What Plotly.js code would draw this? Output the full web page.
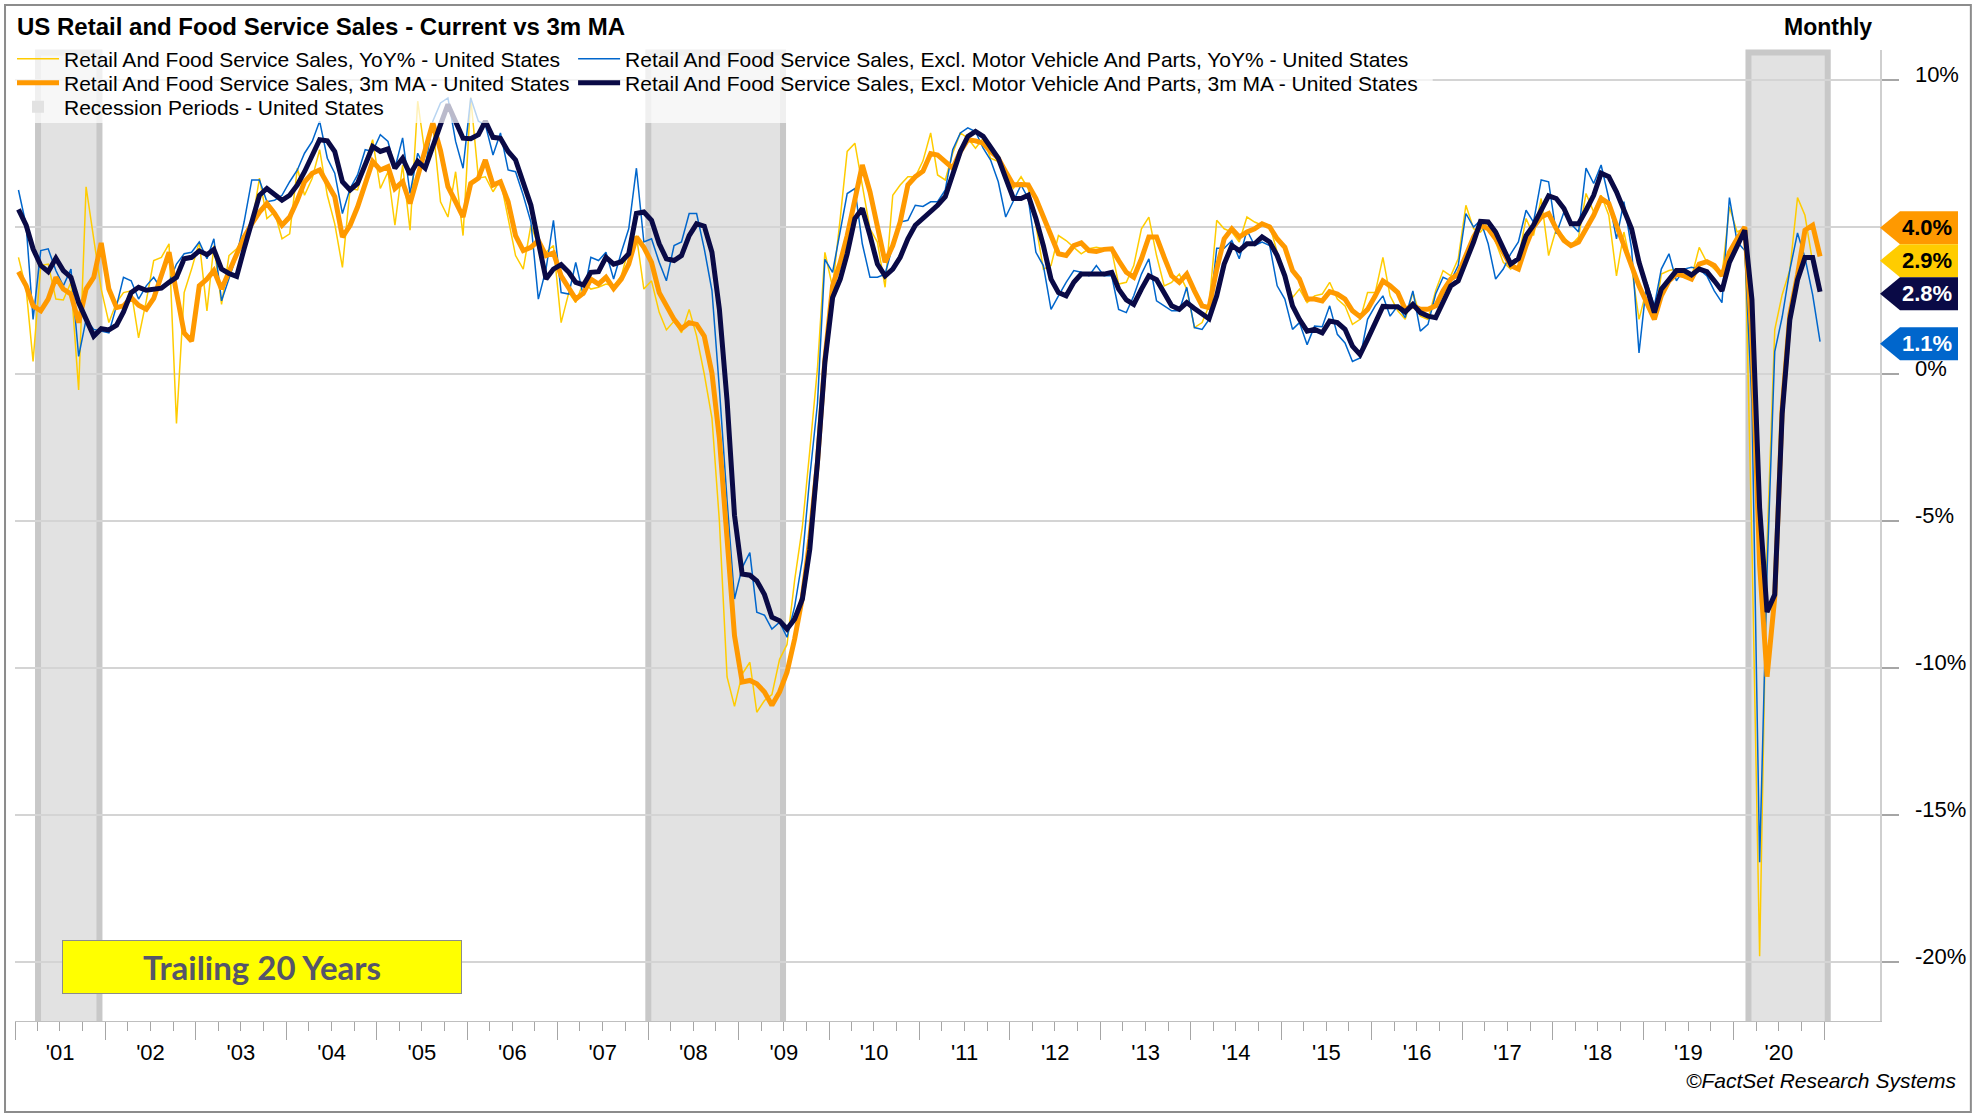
<!DOCTYPE html>
<html>
<head>
<meta charset="utf-8">
<script src="https://cdn.plot.ly/plotly-3.0.1.min.js"></script>
<style>
html,body{margin:0;padding:0;background:#fff;}
#chart{width:1973px;height:1114px;}
</style>
</head>
<body>
<div id="chart"></div>
<script>
// ---------------- DATA (monthly, Jan 2001 .. Dec 2020) ----------------
const startYear = 2001;
const years = [2001,2002,2003,2004,2005,2006,2007,2008,2009,2010,2011,2012,2013,2014,2015,2016,2017,2018,2019,2020];

// Retail And Food Service Sales, YoY% - United States
const totalYoY = [
 3.97, 2.89, 0.43, 3.69, 3.74, 2.55, 2.52, 3.12, -0.54, 6.37, 4.60, 2.89,
 1.75, 2.43, 2.77, 2.83, 1.23, 2.49, 3.86, 3.97, 4.43, -1.68, 2.77, 3.57,
 4.49, 2.15, 4.37, 2.37, 4.03, 4.26, 4.71, 5.06, 6.66, 5.29, 5.51, 4.60,
 4.77, 7.00, 6.08, 6.66, 7.63, 6.08, 5.11, 3.63, 6.31, 6.26, 7.17, 7.97,
 6.31, 6.88, 5.06, 7.11, 4.89, 9.28, 7.45, 8.48, 5.86, 5.34, 6.88, 4.71,
 9.40, 6.66, 6.71, 6.20, 6.60, 5.29, 4.03, 3.57, 5.06, 4.37, 4.14, 4.37,
 1.75, 2.77, 2.43, 3.12, 2.89, 2.95, 3.06, 3.00, 3.34, 4.26, 4.71, 2.89,
 3.17, 2.10, 1.50, 1.80, 1.40, 2.20, 1.30, 0.00, -1.50, -5.00, -10.30, -11.30,
 -10.20, -9.80, -11.50, -11.10, -10.90, -9.70, -9.20, -7.00, -5.20, -2.60, 0.20, 4.14,
 2.95, 5.30, 7.57, 7.85, 6.43, 4.94, 4.49, 2.95, 6.08, 6.43, 6.71, 6.71,
 7.25, 8.20, 6.77, 6.60, 7.51, 8.20, 8.02, 7.68, 8.02, 7.34, 7.23, 6.66,
 6.31, 6.71, 6.31, 5.06, 3.57, 3.69, 4.71, 4.54, 4.31, 4.09, 4.26, 4.31,
 4.26, 4.20, 3.06, 3.12, 3.69, 4.94, 5.34, 4.03, 3.00, 3.12, 3.40, 2.89,
 1.58, 1.75, 2.32, 5.23, 4.94, 4.83, 4.49, 5.34, 5.17, 5.06, 5.06, 4.14,
 3.46, 2.60, 2.89, 2.43, 2.66, 2.72, 3.12, 2.55, 2.32, 1.69, 1.86, 2.77,
 2.77, 3.97, 2.66, 2.15, 1.86, 2.77, 1.97, 1.86, 2.83, 3.52, 3.34, 3.92,
 5.74, 4.94, 4.83, 5.17, 4.49, 3.80, 3.57, 3.92, 5.29, 4.71, 5.97, 4.03,
 4.94, 4.66, 4.37, 4.66, 6.14, 5.51, 6.08, 5.40, 3.34, 4.83, 3.63, 1.86,
 2.89, 1.86, 3.40, 3.52, 3.57, 3.29, 3.29, 4.31, 3.80, 3.57, 3.34, 5.68,
 4.83, 4.97, -5.80, -19.80, -5.80, 1.50, 2.70, 3.54, 6.00, 5.40, 3.80, 2.90
];

// Retail And Food Service Sales, 3m MA - United States
const totalMA = [
 3.48, 3.00, 2.32, 2.15, 2.55, 3.29, 2.89, 2.72, 1.75, 2.89, 3.29, 4.46,
 2.89, 2.26, 2.32, 2.60, 2.34, 2.20, 2.57, 3.40, 4.14, 2.77, 1.40, 1.12,
 3.00, 3.23, 3.52, 2.89, 3.46, 4.14, 4.66, 5.11, 5.51, 5.80, 5.46, 5.06,
 5.34, 5.91, 6.54, 6.83, 6.94, 6.48, 6.03, 4.66, 5.06, 5.68, 6.43, 7.23,
 6.94, 7.05, 6.31, 6.54, 5.80, 6.71, 7.68, 8.54, 7.60, 6.37, 5.86, 5.34,
 6.48, 6.66, 7.28, 6.43, 6.54, 5.86, 4.71, 4.20, 4.31, 4.54, 4.03, 4.12,
 3.34, 2.91, 2.55, 2.75, 3.23, 3.06, 3.29, 2.91, 3.23, 3.74, 4.66, 4.31,
 3.80, 2.77, 2.32, 1.86, 1.54, 1.75, 1.69, 1.29, 0.03, -2.20, -5.60, -8.90,
 -10.47, -10.42, -10.53, -10.81, -11.26, -10.81, -10.14, -9.00, -7.60, -5.60, -3.00, 0.50,
 3.00, 3.80, 4.71, 5.97, 7.11, 6.20, 5.06, 3.80, 4.37, 5.17, 6.43, 6.71,
 6.90, 7.50, 7.45, 7.23, 7.00, 7.57, 7.97, 7.93, 7.85, 7.57, 7.34, 6.88,
 6.43, 6.45, 6.43, 5.97, 5.40, 4.71, 4.09, 4.03, 4.37, 4.46, 4.20, 4.17,
 4.24, 4.26, 3.86, 3.46, 3.29, 3.92, 4.66, 4.66, 3.97, 3.34, 3.12, 3.40,
 2.83, 2.32, 2.26, 3.57, 4.60, 4.94, 4.66, 4.83, 4.94, 5.11, 5.00, 4.60,
 4.31, 3.52, 3.23, 2.55, 2.55, 2.49, 2.80, 2.72, 2.55, 2.15, 1.95, 2.20,
 2.66, 3.17, 3.00, 2.77, 2.20, 2.32, 2.20, 2.20, 2.32, 2.83, 3.23, 3.40,
 4.03, 4.66, 5.06, 4.94, 4.60, 4.14, 3.69, 3.57, 4.37, 5.00, 5.34, 5.46,
 4.94, 4.54, 4.37, 4.49, 4.94, 5.40, 5.97, 5.80, 5.06, 4.37, 3.57, 3.00,
 2.43, 1.86, 2.66, 3.17, 3.40, 3.34, 3.23, 3.74, 3.82, 3.69, 3.34, 4.14,
 4.60, 5.00, 1.30, -6.50, -10.29, -7.59, -1.18, 2.02, 3.37, 4.89, 5.06, 4.00
];

// Retail And Food Service Sales, Excl. Motor Vehicle And Parts, YoY% - United States
const exAutoYoY = [
 6.26, 5.06, 1.86, 4.20, 4.26, 3.52, 3.00, 3.57, 0.60, 1.86, 1.52, 1.46,
 1.40, 2.32, 3.29, 3.17, 2.55, 3.00, 3.29, 2.89, 3.12, 3.74, 4.09, 4.14,
 4.49, 3.92, 4.60, 2.49, 3.23, 4.03, 5.17, 6.60, 6.60, 5.86, 5.91, 6.08,
 6.54, 6.94, 7.51, 7.91, 8.60, 7.34, 6.83, 5.46, 6.31, 6.77, 7.63, 7.57,
 8.14, 7.91, 7.00, 8.03, 6.14, 7.51, 7.00, 8.60, 9.22, 9.39, 7.91, 7.00,
 9.39, 8.60, 8.48, 7.45, 8.20, 6.94, 6.88, 6.08, 5.17, 2.55, 3.57, 5.23,
 2.77, 2.72, 3.80, 2.66, 3.97, 3.86, 4.14, 3.23, 4.14, 4.94, 7.00, 4.49,
 4.60, 3.80, 3.17, 4.37, 4.49, 5.46, 5.46, 4.26, 2.84, -0.50, -4.30, -7.65,
 -6.58, -6.07, -8.10, -8.20, -8.67, -8.44, -8.95, -7.90, -6.30, -3.50, -1.00, 3.90,
 3.46, 4.83, 6.14, 6.31, 4.43, 3.29, 3.29, 3.40, 4.37, 5.17, 5.23, 5.74,
 5.70, 5.86, 5.86, 6.26, 7.63, 8.20, 8.37, 8.25, 7.68, 7.28, 6.54, 5.34,
 5.91, 6.43, 5.97, 4.14, 3.69, 2.20, 2.66, 3.12, 3.52, 3.46, 3.34, 3.69,
 3.34, 3.34, 2.20, 2.09, 2.66, 3.40, 3.92, 2.49, 2.32, 2.15, 2.15, 2.95,
 1.58, 1.52, 1.86, 4.28, 4.28, 4.54, 3.92, 4.89, 4.37, 4.49, 4.37, 3.00,
 2.55, 1.52, 1.75, 1.00, 1.63, 1.61, 2.32, 1.35, 1.06, 0.43, 0.55, 1.86,
 2.32, 2.66, 1.97, 2.32, 1.92, 2.83, 1.46, 1.69, 2.72, 3.29, 3.17, 3.69,
 5.46, 5.00, 5.23, 4.43, 3.23, 3.57, 4.09, 4.49, 5.57, 5.17, 6.60, 6.54,
 4.77, 5.51, 5.11, 4.83, 7.00, 6.48, 7.11, 5.97, 4.60, 5.86, 4.26, 0.72,
 3.12, 2.32, 3.57, 4.09, 3.17, 3.57, 3.63, 3.57, 3.34, 2.83, 2.43, 6.00,
 4.50, 4.20, -1.00, -16.60, -6.70, 0.76, 1.94, 3.54, 4.80, 3.96, 2.70, 1.10
];

// Retail And Food Service Sales, Excl. Motor Vehicle And Parts, 3m MA - United States
const exAutoMA = [
 5.60, 5.06, 4.26, 3.69, 3.48, 3.94, 3.52, 3.29, 2.43, 1.86, 1.29, 1.54,
 1.50, 1.66, 2.11, 2.77, 2.95, 2.85, 2.89, 2.92, 3.12, 3.29, 3.92, 3.97,
 4.19, 4.06, 4.24, 3.57, 3.42, 3.32, 4.26, 5.11, 6.08, 6.31, 6.11, 5.91,
 6.08, 6.43, 6.88, 7.45, 7.97, 7.93, 7.57, 6.54, 6.26, 6.48, 7.17, 7.74,
 7.57, 7.66, 7.00, 7.34, 6.79, 7.23, 7.00, 7.80, 8.48, 9.17, 8.60, 8.02,
 8.00, 8.14, 8.60, 8.05, 8.02, 7.57, 7.28, 6.54, 5.74, 4.49, 3.23, 3.57,
 3.72, 3.46, 3.12, 3.03, 3.46, 3.48, 3.97, 3.74, 3.82, 4.09, 5.46, 5.51,
 5.23, 4.43, 3.92, 3.86, 4.03, 4.71, 5.11, 5.03, 4.14, 2.20, -0.90, -4.80,
 -6.80, -6.84, -7.03, -7.50, -8.27, -8.39, -8.67, -8.33, -7.65, -5.96, -3.00, 0.40,
 2.60, 3.23, 4.09, 5.29, 5.63, 4.71, 3.74, 3.34, 3.57, 3.97, 4.60, 5.06,
 5.29, 5.55, 5.74, 6.03, 6.77, 7.57, 8.08, 8.25, 8.08, 7.74, 7.34, 6.66,
 5.97, 5.97, 6.08, 5.29, 4.37, 3.23, 2.77, 2.66, 3.12, 3.40, 3.40, 3.44,
 3.40, 3.46, 2.89, 2.52, 2.37, 2.89, 3.34, 3.21, 2.77, 2.32, 2.20, 2.43,
 2.23, 2.03, 1.88, 2.66, 3.74, 4.37, 4.20, 4.43, 4.43, 4.66, 4.49, 4.03,
 3.34, 2.32, 1.86, 1.46, 1.52, 1.40, 1.80, 1.75, 1.52, 0.95, 0.66, 1.18,
 1.75, 2.30, 2.29, 2.29, 2.11, 2.37, 2.09, 1.97, 1.92, 2.43, 3.00, 3.17,
 3.80, 4.49, 5.19, 5.17, 4.83, 4.26, 3.74, 3.92, 4.71, 5.06, 5.57, 6.06,
 5.97, 5.63, 5.11, 5.11, 5.57, 6.08, 6.83, 6.71, 6.20, 5.63, 4.94, 3.80,
 3.00, 2.09, 2.89, 3.23, 3.52, 3.52, 3.37, 3.57, 3.48, 3.17, 2.83, 3.80,
 4.37, 4.89, 2.53, -4.55, -8.09, -7.50, -1.35, 1.85, 3.20, 3.96, 3.96, 2.80
];

// Recession Periods - United States
const recessionStart = ['2001-04-04', '2008-01-02', '2020-03-01'];
const recessionEnd   = ['2001-12-08', '2009-06-29', '2021-01-15'];

const yTickVals = [-20, -15, -10, -5, 0, 5, 10];

const names = {
  totalYoY: 'Retail And Food Service Sales, YoY% - United States',
  totalMA: 'Retail And Food Service Sales, 3m MA - United States',
  exAutoYoY: 'Retail And Food Service Sales, Excl. Motor Vehicle And Parts, YoY% - United States',
  exAutoMA: 'Retail And Food Service Sales, Excl. Motor Vehicle And Parts, 3m MA - United States',
  recession: 'Recession Periods - United States'
};
const colors = {
  totalYoY: '#FFCC00', totalMA: '#FF9900', exAutoYoY: '#0066CC', exAutoMA: '#0A0A46'
};

// ---------------- checks ----------------
[totalYoY, totalMA, exAutoYoY, exAutoMA].forEach((a, i) => {
  if (a.length !== years.length * 12) throw new Error('series ' + i + ' length ' + a.length);
});

// ---------------- geometry helpers ----------------
const W = 1973, H = 1114;
const M = {l: 12, r: 93, t: 50, b: 93};
const PW = W - M.l - M.r, PH = H - M.t - M.b;
const pxX = v => (v - M.l) / PW;
const pxY = v => 1 - (v - M.t) / PH;
const FONT = 'Arial, "Liberation Sans", sans-serif';

const dates = totalYoY.map((_, i) => {
  const y = startYear + Math.floor(i / 12), m = i % 12 + 1;
  return y + '-' + String(m).padStart(2, '0') + '-15';
});
const tickYears = years.concat([years[years.length - 1] + 1]);
const majorTicks = tickYears.map(y => y + '-01-01');
const minorTicks = [];
years.forEach(y => ['04', '07', '10'].forEach(m => minorTicks.push(y + '-' + m + '-01')));
const labelVals = years.map(y => y + '-07-02');
const labelText = years.map(y => "'" + String(y).slice(2));
const xRange = ['2001-01-01', '2021-08-14'];
const yRange = [-22.0, 11.02];

// ---------------- traces ----------------
const traces = [
  {x: dates, y: totalYoY, name: names.totalYoY, type: 'scatter', mode: 'lines',
   line: {color: colors.totalYoY, width: 1.5}, legend: 'legend', hoverinfo: 'skip'},
  {x: dates, y: exAutoYoY, name: names.exAutoYoY, type: 'scatter', mode: 'lines',
   line: {color: colors.exAutoYoY, width: 1.5}, legend: 'legend4', hoverinfo: 'skip'},
  {x: dates, y: totalMA, name: names.totalMA, type: 'scatter', mode: 'lines',
   line: {color: colors.totalMA, width: 5}, legend: 'legend2', hoverinfo: 'skip'},
  {x: dates, y: exAutoMA, name: names.exAutoMA, type: 'scatter', mode: 'lines',
   line: {color: colors.exAutoMA, width: 5}, legend: 'legend5', hoverinfo: 'skip'},
  {x: dates, y: totalYoY, xaxis: 'x2', type: 'scatter', mode: 'lines', opacity: 0,
   line: {width: 0}, showlegend: false, hoverinfo: 'skip'}
];

// ---------------- shapes ----------------
const shapes = [];
recessionStart.forEach((s, i) => {
  shapes.push({type: 'rect', xref: 'x', yref: 'paper', x0: s, x1: recessionEnd[i], y0: 0, y1: 1 - 2.5 / PH,
    fillcolor: '#E2E2E2', line: {width: 0}, layer: 'below',
    showlegend: i === 0, legend: 'legend3', name: names.recession});
  shapes.push({type: 'path', xref: 'x', yref: 'paper', layer: 'below',
    path: 'M' + s + ',0 L' + s + ',' + (1 - 2.5 / PH) + ' L' + recessionEnd[i] + ',' + (1 - 2.5 / PH) + ' L' + recessionEnd[i] + ',0',
    line: {color: '#C8C8C8', width: 6}});
});
// semi-transparent legend background
shapes.push({type: 'rect', xref: 'paper', yref: 'paper', layer: 'above',
  x0: pxX(12), x1: pxX(1432), y0: pxY(123), y1: pxY(46),
  fillcolor: 'rgba(255,255,255,0.72)', line: {width: 0}});
// outer frame
shapes.push({type: 'rect', xref: 'paper', yref: 'paper', layer: 'above',
  x0: pxX(2), x1: pxX(1971), y0: pxY(1112), y1: pxY(5),
  fillcolor: 'rgba(0,0,0,0)', line: {color: '#8C8C8C', width: 2}});

// last-value tags
const unitPx = PH / (yRange[1] - yRange[0]);
const tagH = 33;
const tags = [
  {v: totalMA[totalMA.length - 1], fill: colors.totalMA, txt: '#000000'},
  {v: totalYoY[totalYoY.length - 1], fill: colors.totalYoY, txt: '#000000'},
  {v: exAutoMA[exAutoMA.length - 1], fill: colors.exAutoMA, txt: '#FFFFFF'},
  {v: exAutoYoY[exAutoYoY.length - 1], fill: colors.exAutoYoY, txt: '#FFFFFF'}
];
const sorted = tags.slice().sort((a, b) => a.v - b.v);
let prev = -Infinity;
sorted.forEach(t => {
  t.pos = Math.max(t.v, prev + tagH / unitPx);
  prev = t.pos;
  t.pos -= 2 / unitPx;
});
const annotations = [];
tags.forEach(t => {
  shapes.push({type: 'path', xref: 'paper', yref: 'y', xsizemode: 'pixel', ysizemode: 'pixel',
    xanchor: 1, yanchor: t.pos, layer: 'above',
    path: 'M0,0 L20,' + (tagH / 2) + ' L78,' + (tagH / 2) + ' L78,' + (-tagH / 2) + ' L20,' + (-tagH / 2) + ' Z',
    fillcolor: t.fill, line: {width: 0}});
  annotations.push({xref: 'paper', yref: 'y', x: 1, y: t.pos, xshift: 47, xanchor: 'center', yanchor: 'middle',
    showarrow: false, text: '<b>' + t.v.toFixed(1) + '%</b>',
    font: {family: FONT, size: 22, color: t.txt}});
});

annotations.push({xref: 'paper', yref: 'paper', x: pxX(1828), y: pxY(27), xanchor: 'center', yanchor: 'middle',
  showarrow: false, text: '<b>Monthly</b>', font: {family: FONT, size: 23, color: '#000'}});
annotations.push({xref: 'paper', yref: 'paper', x: pxX(1958), y: pxY(1080), xanchor: 'right', yanchor: 'middle',
  showarrow: false, text: '<i>©FactSet Research Systems</i>', font: {family: FONT, size: 21, color: '#000'}});
annotations.push({xref: 'paper', yref: 'paper', x: pxX(259), y: pxY(967), xanchor: 'center', yanchor: 'middle',
  showarrow: false, text: '<b>Trailing 20 Years</b>', font: {family: 'Lato, "Open Sans", sans-serif', size: 33, color: '#55556A'},
  bgcolor: '#FFFF00', bordercolor: '#8C8C8C', borderwidth: 1, borderpad: 0, width: 398, height: 52});

// ---------------- layout ----------------
const legendCommon = {orientation: 'v', xanchor: 'left', yanchor: 'middle', bgcolor: 'rgba(0,0,0,0)',
  font: {family: FONT, size: 21, color: '#000'}, itemwidth: 42,
  itemclick: false, itemdoubleclick: false};
const col1 = pxX(9), col2 = pxX(571);

const layout = {
  width: W, height: H,
  margin: M,
  paper_bgcolor: '#FFFFFF', plot_bgcolor: '#FFFFFF',
  font: {family: FONT, color: '#000'},
  title: {text: '<b>US Retail and Food Service Sales - Current vs 3m MA</b>',
    font: {family: FONT, size: 24, color: '#000'},
    xref: 'container', yref: 'container', x: 17 / W, xanchor: 'left', y: 1 - 27 / H, yanchor: 'middle'},
  showlegend: true,
  legend: Object.assign({}, legendCommon, {x: col1, y: pxY(59)}),
  legend2: Object.assign({}, legendCommon, {x: col1, y: pxY(83)}),
  legend3: Object.assign({}, legendCommon, {x: col1, y: pxY(107)}),
  legend4: Object.assign({}, legendCommon, {x: col2, y: pxY(59)}),
  legend5: Object.assign({}, legendCommon, {x: col2, y: pxY(83)}),
  xaxis: {type: 'date', range: xRange, showgrid: false, zeroline: false,
    showline: true, linecolor: '#BFBFBF', linewidth: 1,
    tickmode: 'array', tickvals: majorTicks, ticktext: majorTicks.map(() => ''),
    ticks: 'outside', ticklen: 18, tickcolor: '#A6A6A6', tickwidth: 1,
    minor: {tickmode: 'array', tickvals: minorTicks, ticks: 'outside', ticklen: 9, tickcolor: '#A6A6A6', tickwidth: 1, showgrid: false},
    fixedrange: true},
  xaxis2: {type: 'date', range: xRange, overlaying: 'x', anchor: 'y', side: 'bottom',
    showgrid: false, zeroline: false, showline: false, ticks: '',
    tickmode: 'array', tickvals: labelVals, ticktext: labelText,
    tickfont: {family: FONT, size: 22, color: '#000'}, ticklabelstandoff: 16, fixedrange: true},
  yaxis: {range: yRange, side: 'right', showgrid: true, gridcolor: '#D4D4D4', gridwidth: 1.5,
    zeroline: false, showline: true, linecolor: '#CFCFCF', linewidth: 1.5,
    tickmode: 'array', tickvals: yTickVals, ticktext: yTickVals.map(v => v + '%'),
    ticks: 'outside', ticklen: 17, tickcolor: '#A6A6A6', tickwidth: 1.5, ticklabelshift: -6,
    tickfont: {family: FONT, size: 22, color: '#000'}, ticklabelstandoff: 12, fixedrange: true},
  shapes: shapes,
  annotations: annotations,
  hovermode: false
};

Plotly.newPlot('chart', traces, layout, {displayModeBar: false, staticPlot: true});
</script>
</body>
</html>
